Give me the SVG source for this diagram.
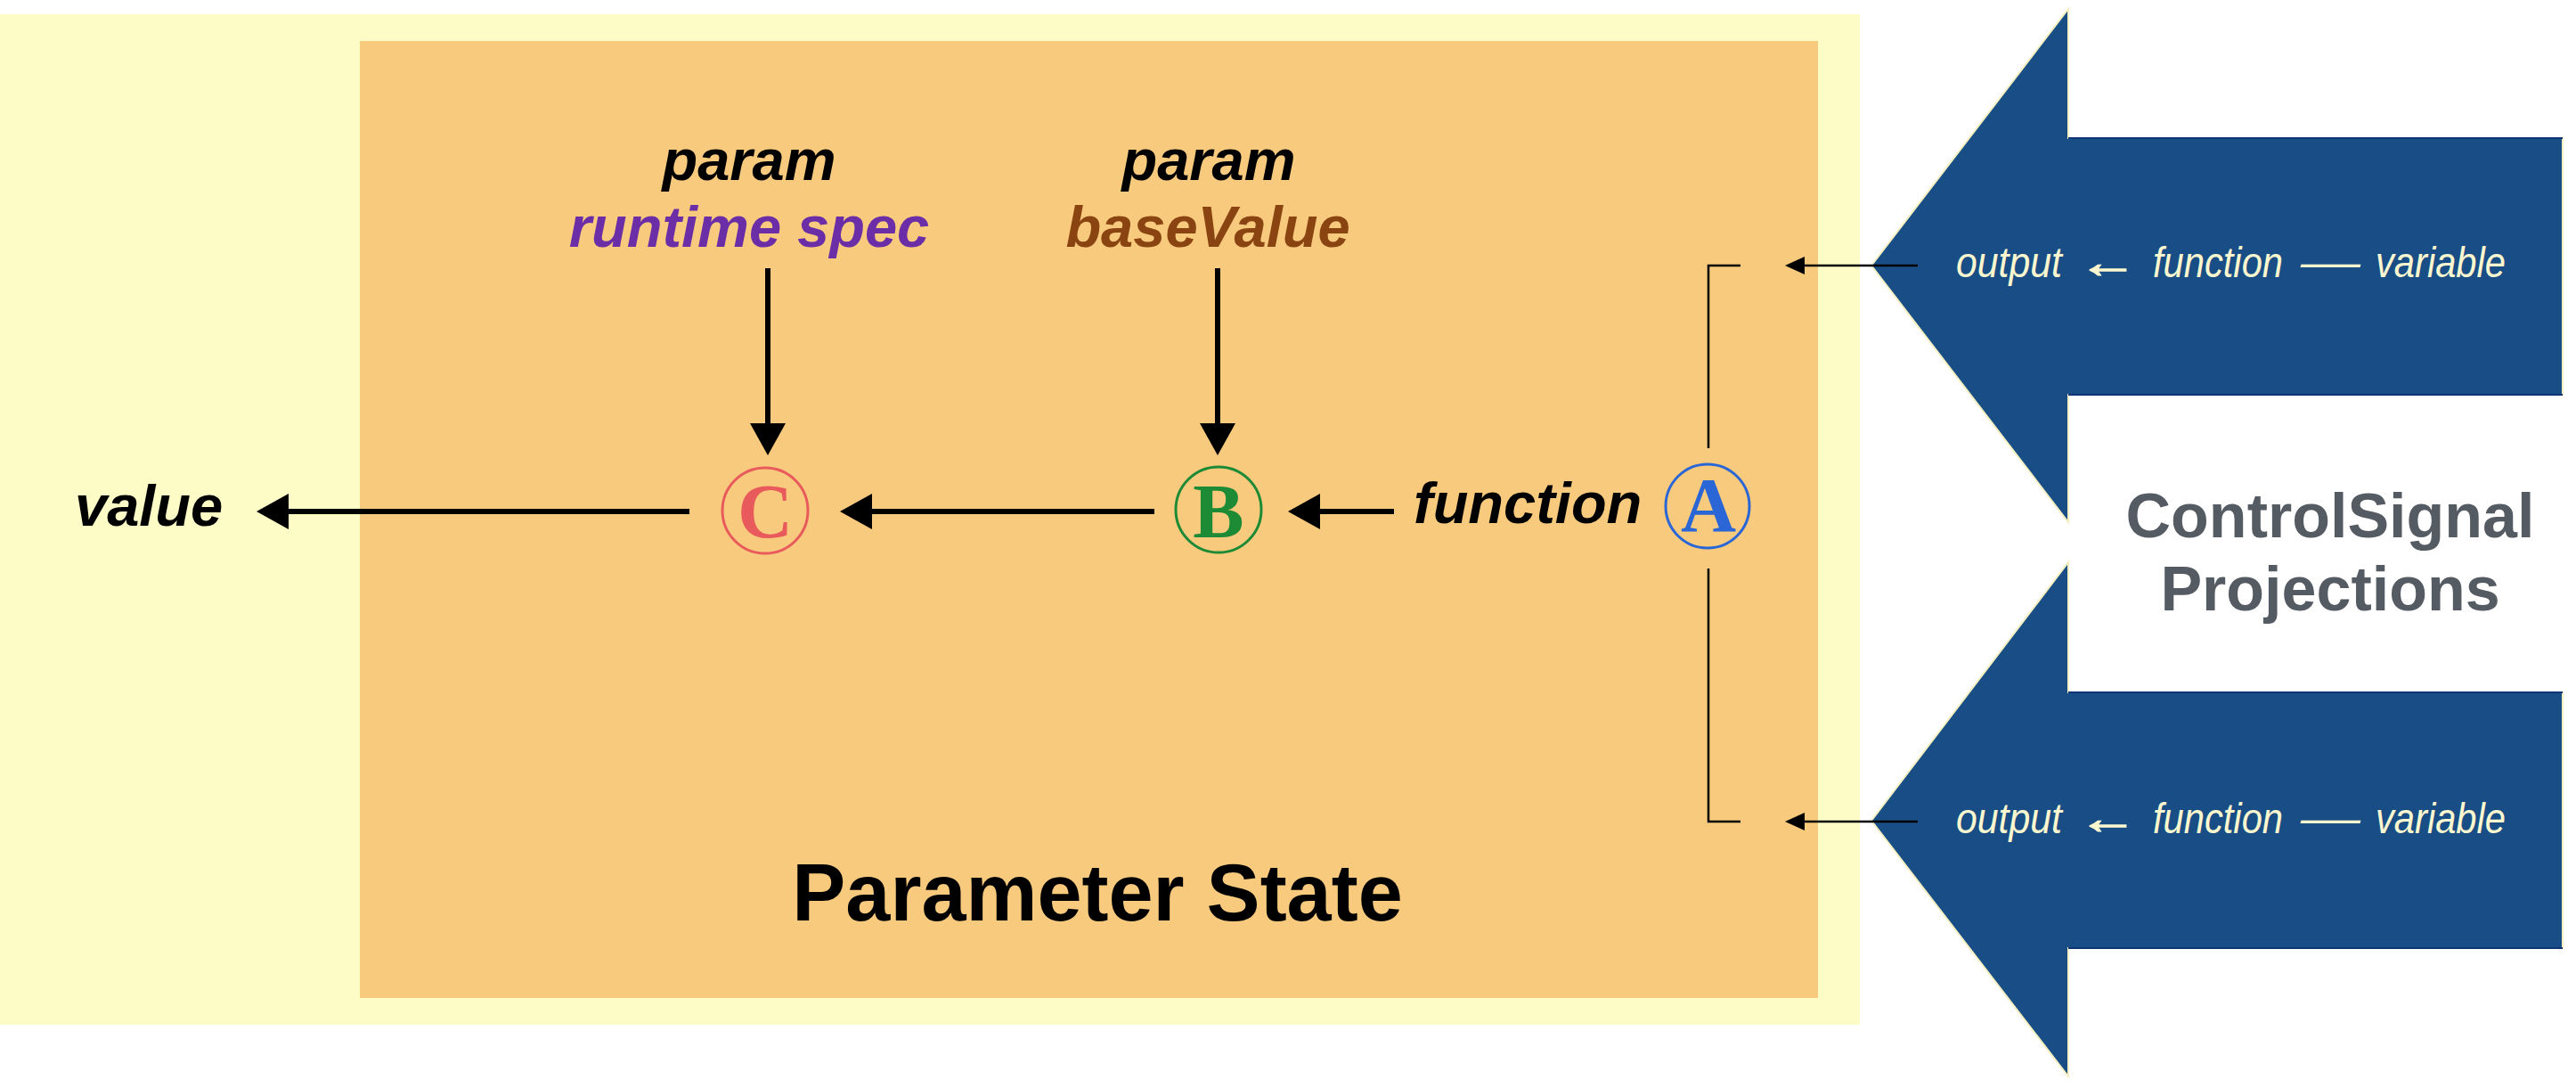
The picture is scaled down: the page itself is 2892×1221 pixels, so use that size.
<svg xmlns="http://www.w3.org/2000/svg" width="2892" height="1221" viewBox="0 0 2892 1221">
<defs>
<style>
.lbl{font-family:"Liberation Sans",Arial,sans-serif;font-weight:bold;font-style:italic;font-size:65px;fill:#000}
.sm{font-family:"Liberation Sans",Arial,sans-serif;font-style:italic;font-size:48px;fill:#fdf7cf}
.arr{font-weight:bold;stroke:#fdf7cf;stroke-width:1.5}
.title{font-family:"Liberation Sans",Arial,sans-serif;font-weight:bold;font-size:90px;fill:#000}
.cs{font-family:"Liberation Sans",Arial,sans-serif;font-weight:bold;font-size:70px;fill:#555b63}
.let{font-family:"Liberation Serif","Times New Roman",serif;font-weight:bold;font-size:86px}
.big{fill:#184e85;stroke:#f4efc0;stroke-width:2}
.conn{stroke:#000;stroke-width:6;fill:none}
.thin{stroke:#000;stroke-width:2.5;fill:none}
</style>
<marker id="ah" markerUnits="userSpaceOnUse" markerWidth="36" markerHeight="40" refX="16" refY="20" orient="auto">
<path d="M0,0 L36,20 L0,40 z" fill="#000"/>
</marker>
<marker id="ahs" markerUnits="userSpaceOnUse" markerWidth="22" markerHeight="20" refX="12" refY="10" orient="auto">
<path d="M0,0 L22,10 L0,20 z" fill="#000"/>
</marker>
</defs>
<rect width="2892" height="1221" fill="#fff"/>
<g id="outer">
<rect x="0" y="16" width="2088" height="1134" fill="#fdfbc6"/>
</g>
<g id="parameter-state">
<rect x="404" y="46" width="1637" height="1074" fill="#f8ca7e"/>
<text class="title" x="1232" y="1033" text-anchor="middle">Parameter State</text>
</g>
<g id="projection-top">
<polygon class="big" points="2101,298 2322,10 2322,155 2877,155 2877,443 2322,443 2322,586"/>
<line x1="2322" y1="155" x2="2877" y2="155" stroke="#0d3575" stroke-width="2"/>
<line x1="2322" y1="443" x2="2877" y2="443" stroke="#0d3575" stroke-width="2"/>
<text class="sm" x="2196" y="311" textLength="119" lengthAdjust="spacingAndGlyphs">output</text>
<text class="sm arr" x="2333" y="311" textLength="67" lengthAdjust="spacingAndGlyphs">←</text>
<text class="sm" x="2417" y="311" textLength="146" lengthAdjust="spacingAndGlyphs">function</text>
<text class="sm" x="2583" y="311" textLength="67" lengthAdjust="spacingAndGlyphs">—</text>
<text class="sm" x="2667" y="311" textLength="146" lengthAdjust="spacingAndGlyphs">variable</text>
</g>
<g id="projection-bottom">
<polygon class="big" points="2101,921 2322,631 2322,777 2877,777 2877,1064 2322,1064 2322,1208"/>
<line x1="2322" y1="777" x2="2877" y2="777" stroke="#0d3575" stroke-width="2"/>
<line x1="2322" y1="1064" x2="2877" y2="1064" stroke="#0d3575" stroke-width="2"/>
<text class="sm" x="2196" y="935" textLength="119" lengthAdjust="spacingAndGlyphs">output</text>
<text class="sm arr" x="2333" y="935" textLength="67" lengthAdjust="spacingAndGlyphs">←</text>
<text class="sm" x="2417" y="935" textLength="146" lengthAdjust="spacingAndGlyphs">function</text>
<text class="sm" x="2583" y="935" textLength="67" lengthAdjust="spacingAndGlyphs">—</text>
<text class="sm" x="2667" y="935" textLength="146" lengthAdjust="spacingAndGlyphs">variable</text>
</g>
<g id="controlsignal-label">
<text class="cs" x="2616" y="603" text-anchor="middle">ControlSignal</text>
<text class="cs" x="2616" y="685" text-anchor="middle">Projections</text>
</g>
<g id="param-runtime">
<text class="lbl" x="841" y="202" text-anchor="middle">param</text>
<text class="lbl" x="841" y="277" text-anchor="middle" style="fill:#6b2ea6">runtime spec</text>
</g>
<g id="param-basevalue">
<text class="lbl" x="1357" y="202" text-anchor="middle">param</text>
<text class="lbl" x="1356" y="277" text-anchor="middle" style="fill:#8a4412">baseValue</text>
</g>
<g id="value-label">
<text class="lbl" x="84" y="590">value</text>
</g>
<g id="function-label">
<text class="lbl" x="1587" y="587">function</text>
</g>
<g id="node-C">
<circle cx="859" cy="573" r="48" fill="none" stroke="#e85a5c" stroke-width="3"/>
<text class="let" x="859" y="603" text-anchor="middle" fill="#e85a5c">C</text>
</g>
<g id="node-B">
<circle cx="1368" cy="572" r="48" fill="none" stroke="#1d8a35" stroke-width="3"/>
<text class="let" x="1368" y="603" text-anchor="middle" fill="#1d8a35">B</text>
</g>
<g id="node-A">
<circle cx="1917" cy="568" r="47" fill="none" stroke="#2a66d6" stroke-width="3"/>
<text class="let" x="1918" y="596" text-anchor="middle" fill="#2a66d6">A</text>
</g>
<g id="connectors">
<line class="conn" x1="774" y1="574" x2="308" y2="574" marker-end="url(#ah)"/>
<line class="conn" x1="1296" y1="574" x2="963" y2="574" marker-end="url(#ah)"/>
<line class="conn" x1="1565" y1="574" x2="1466" y2="574" marker-end="url(#ah)"/>
<line class="conn" x1="862" y1="301" x2="862" y2="491" marker-end="url(#ah)"/>
<line class="conn" x1="1367" y1="301" x2="1367" y2="491" marker-end="url(#ah)"/>
<polyline class="thin" points="1954,298 1918,298 1918,503"/>
<polyline class="thin" points="1918,638 1918,922 1954,922"/>
<line class="thin" x1="2153" y1="298" x2="2014" y2="298" marker-end="url(#ahs)"/>
<line class="thin" x1="2153" y1="922" x2="2014" y2="922" marker-end="url(#ahs)"/>
</g>
</svg>
